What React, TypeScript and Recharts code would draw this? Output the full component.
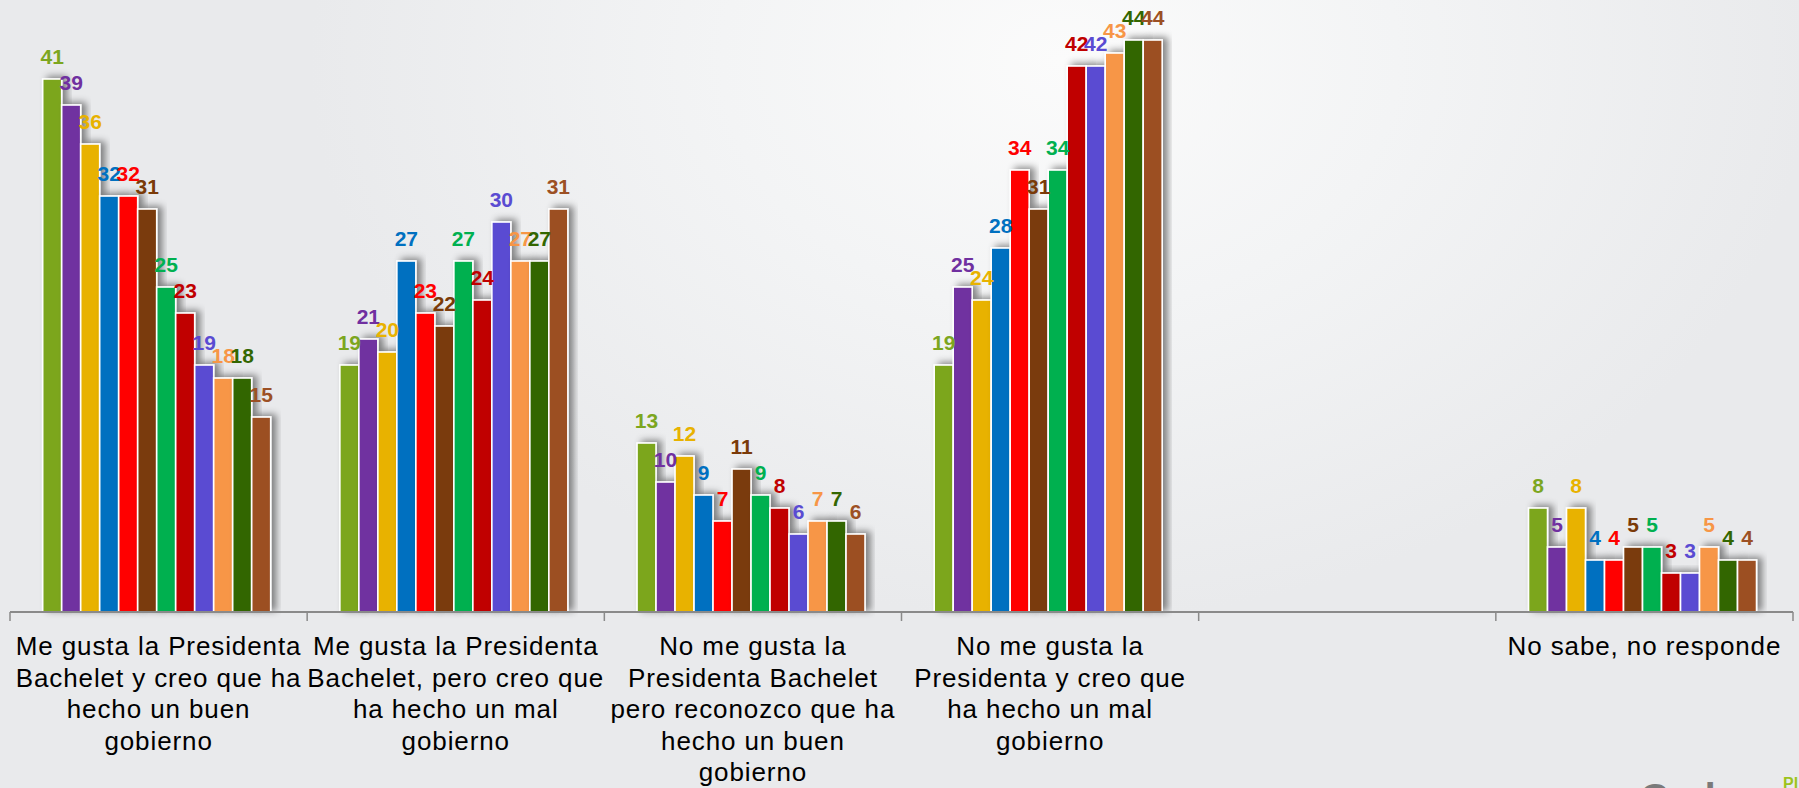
import React from 'react';
import { BarChart, Bar, XAxis, YAxis, LabelList } from 'recharts';

// opinion categories (one blank slot as in the original slide)
const categories = [
  'Me gusta la Presidenta Bachelet y creo que ha hecho un buen gobierno',
  'Me gusta la Presidenta Bachelet, pero creo que ha hecho un mal gobierno',
  'No me gusta la Presidenta Bachelet pero reconozco que ha hecho un buen gobierno',
  'No me gusta la Presidenta y creo que ha hecho un mal gobierno',
  '',
  'No sabe, no responde',
];

const tickLines = [
  ['Me gusta la Presidenta', 'Bachelet y creo que ha', 'hecho un buen', 'gobierno'],
  ['Me gusta la Presidenta', 'Bachelet, pero creo que', 'ha hecho un mal', 'gobierno'],
  ['No me gusta la', 'Presidenta Bachelet', 'pero reconozco que ha', 'hecho un buen', 'gobierno'],
  ['No me gusta la', 'Presidenta y creo que', 'ha hecho un mal', 'gobierno'],
  [],
  ['No sabe, no responde'],
];

// one value per measurement, 12 measurements per category
const likeGood = [41, 39, 36, 32, 32, 31, 25, 23, 19, 18, 18, 15];
const likeBad = [19, 21, 20, 27, 23, 22, 27, 24, 30, 27, 27, 31];
const dislikeGood = [13, 10, 12, 9, 7, 11, 9, 8, 6, 7, 7, 6];
const dislikeBad = [19, 25, 24, 28, 34, 31, 34, 42, 42, 43, 44, 44];
const blank: (number | null)[] = Array(12).fill(null);
const noAnswer = [8, 5, 8, 4, 4, 5, 5, 3, 3, 5, 4, 4];

const seriesColors = [
  '#7ca61f', '#7030a0', '#e8b200', '#0070c0', '#ff0000', '#7a3a08',
  '#00b050', '#c00000', '#5a4bd2', '#f79646', '#336600', '#9c5024',
];

const valueRows = [likeGood, likeBad, dislikeGood, dislikeBad, blank, noAnswer];
const data = categories.map((name, i) => {
  const row: any = { name };
  seriesColors.forEach((_, s) => {
    row['s' + s] = valueRows[i][s];
  });
  return row;
});

const axisGrey = '#8a8a8a';

// category label plus the tick marks on the band edges
const CategoryTick = (props: any) => {
  const { x, y, index, width, visibleTicksCount, payload } = props;
  const lines = tickLines[index] || [];
  const half = payload && payload.offset ? payload.offset : width / visibleTicksCount / 2;
  const last = index === visibleTicksCount - 1;
  return (
    <g>
      <line x1={x - half} x2={x - half} y1={y} y2={y + 9} stroke={axisGrey} strokeWidth={1.5} />
      {last && <line x1={x + half} x2={x + half} y1={y} y2={y + 9} stroke={axisGrey} strokeWidth={1.5} />}
      <text x={x} y={y} textAnchor="middle" fontFamily="Liberation Sans, Arial, sans-serif"
        fontSize={26} letterSpacing={0.9} fill="#000">
        {lines.map((l, i) => (
          <tspan key={i} x={x} y={y + 43 + i * 31.5}>{l}</tspan>
        ))}
      </text>
    </g>
  );
};

const BarShape = (props: any) => {
  const { x, y, width, height, fill } = props;
  if (!height) return null;
  return (
    <rect x={x} y={y} width={width} height={height} fill={fill}
      stroke="#ffffff" strokeWidth={1.6} filter="url(#barShadow)" />
  );
};

const makeLabel = (color: string) => (props: any) => {
  const { x, y, width, value } = props;
  if (value == null) return null;
  return (
    <text x={x + width / 2} y={y - 15} textAnchor="middle" fill={color}
      fontFamily="Liberation Sans, Arial, sans-serif" fontWeight="bold" fontSize={21}>
      {value}
    </text>
  );
};

export default function App() {
  return (
    <div style={{
      position: 'absolute', left: 0, top: 0, width: 1799, height: 788, overflow: 'hidden',
      background: 'radial-gradient(ellipse 750px 560px at 1060px 60px, #fbfbfb 0%, #f3f4f5 45%, #e9eaec 100%)',
    }}>
      <svg width={0} height={0} style={{ position: 'absolute' }}>
        <defs>
          <filter id="barShadow" x="-50%" y="-20%" width="200%" height="140%">
            <feDropShadow dx={5} dy={-2} stdDeviation={3.5} floodColor="#000" floodOpacity={0.45} />
          </filter>
        </defs>
      </svg>
      <BarChart width={1799} height={788} data={data}
        margin={{ top: 1, right: 6, bottom: 0, left: 10 }}
        barCategoryGap="11%" barGap={0}>
        <XAxis dataKey="name" type="category" height={176}
          axisLine={{ stroke: axisGrey, strokeWidth: 2 }} tickLine={false}
          tickSize={0} tickMargin={0} interval={0} tick={<CategoryTick />} />
        <YAxis hide domain={[0, 47]} />
        {seriesColors.map((c, s) => (
          <Bar key={s} dataKey={'s' + s} fill={c}
            shape={<BarShape />} isAnimationActive={false}>
            <LabelList dataKey={'s' + s} content={makeLabel(c)} />
          </Bar>
        ))}
      </BarChart>
      <div style={{ position: 'absolute', left: 1640, top: 778, fontFamily: 'Liberation Sans, Arial, sans-serif', fontWeight: 'bold', fontSize: 40, color: '#7a7a7a', lineHeight: '40px' }}>Cadem</div>
      <div style={{ position: 'absolute', left: 1783, top: 775, fontFamily: 'Liberation Sans, Arial, sans-serif', fontWeight: 'bold', fontSize: 16, color: '#9cc31c' }}>Pl</div>
    </div>
  );
}
